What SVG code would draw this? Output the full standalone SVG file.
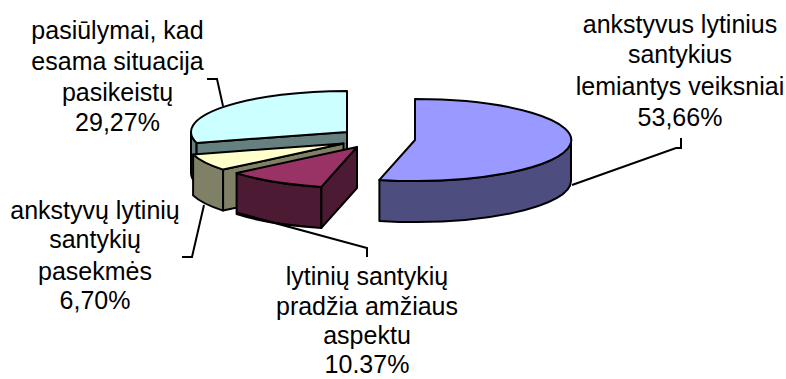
<svg xmlns="http://www.w3.org/2000/svg" width="786" height="379" viewBox="0 0 786 379">
<style>
.s{stroke:#000;stroke-width:2;stroke-linejoin:round}
.t{font-family:"Liberation Sans",Arial,sans-serif;font-size:25px;fill:#000;text-anchor:middle}
.ld{fill:none;stroke:#000;stroke-width:2}
</style>
<rect width="786" height="379" fill="#fff"/>
<g id="slice-cyan">
<path class="s" fill="#668080" d="M191,132 A156,41 0 0 0 196.6,142.9 L196.6,183.9 A156,41 0 0 1 191,173 Z"/>
<path class="s" fill="#668080" d="M347,132 L196.6,142.9 L196.6,183.9 L347,173 Z"/>
<path class="s" fill="#CCFFFF" d="M347,132 L347,91 A156,41 0 0 0 196.6,142.9 Z"/>
</g>
<g id="slice-yellow">
<path class="s" fill="#808066" d="M193.1,154.4 A156,41 0 0 0 223.1,169.6 L223.1,210.6 A156,41 0 0 1 193.1,195.4 Z"/>
<path class="s" fill="#808066" d="M223.1,169.6 L343.5,143.5 L343.5,184.5 L223.1,210.6 Z"/>
<path class="s" fill="#FFFFCC" d="M343.5,143.5 L193.1,154.4 A156,41 0 0 0 223.1,169.6 Z"/>
</g>
<g id="slice-magenta">
<path class="s" fill="#4D1A33" d="M236.6,173.1 A156,41 0 0 0 321.4,186.9 L321.4,227.9 A156,41 0 0 1 236.6,214.1 Z"/>
<path class="s" fill="#4D1A33" d="M321.4,186.9 L357,147 L357,188 L321.4,227.9 Z"/>
<path class="s" fill="#993366" d="M357,147 L236.6,173.1 A156,41 0 0 0 321.4,186.9 Z"/>
</g>
<g id="slice-blue">
<path class="s" fill="#4D4D80" d="M571,140 A156,41 0 0 1 379.4,179.9 L379.4,220.9 A156,41 0 0 0 571,181 Z"/>
<path class="s" fill="#9999FF" d="M415,140 L415,99 A156,41 0 1 1 379.4,179.9 Z"/>
</g>
<g id="connectors">
<path class="ld" d="M207,79 H217 L223,106"/>
<path class="ld" d="M681,138 V148 H676 L572,185"/>
<path class="ld" d="M182,257 H192 L204,205"/>
<path class="ld" d="M238,213 L367,248 V257"/>
</g>
<g id="label-cyan">
<text class="t" x="117.5" y="39">pasiūlymai, kad</text>
<text class="t" x="117.5" y="70">esama situacija</text>
<text class="t" x="117.5" y="101">pasikeistų</text>
<text class="t" x="117.5" y="131">29,27%</text>
</g>
<g id="label-blue">
<text class="t" x="680" y="33">ankstyvus lytinius</text>
<text class="t" x="680" y="63">santykius</text>
<text class="t" x="680" y="95">lemiantys veiksniai</text>
<text class="t" x="680" y="126">53,66%</text>
</g>
<g id="label-yellow">
<text class="t" x="95" y="219">ankstyvų lytinių</text>
<text class="t" x="95" y="248">santykių</text>
<text class="t" x="95" y="280">pasekmės</text>
<text class="t" x="95" y="309">6,70%</text>
</g>
<g id="label-magenta">
<text class="t" x="367" y="285">lytinių santykių</text>
<text class="t" x="367" y="314.5">pradžia amžiaus</text>
<text class="t" x="367" y="344">aspektu</text>
<text class="t" x="367" y="373">10.37%</text>
</g>
</svg>
